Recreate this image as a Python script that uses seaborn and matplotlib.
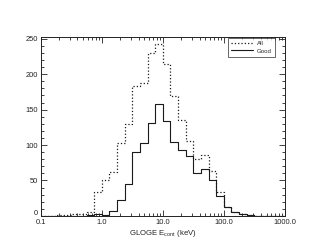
import numpy as np
import pandas as pd
import matplotlib
matplotlib.use("Agg")
import matplotlib.pyplot as plt
import matplotlib.transforms as mtransforms
from matplotlib.ticker import MultipleLocator, FixedLocator, LogLocator, NullFormatter
import seaborn as sns

sns.set_style("ticks")
plt.rcParams['font.family'] = ['Liberation Sans', 'DejaVu Sans']

# Bin edges: 8 log bins per decade, 0.1 .. 1000 keV
edges = 10 ** (np.arange(-8, 25) / 8.0)

all_counts = [0, 0, 1, 1, 2, 3, 5, 34,
              51, 62, 103, 130, 183, 187, 230, 242,
              214, 169, 136, 106, 80, 86, 63, 34,
              13, 6, 3, 1, 0, 0, 0, 0]
good_counts = [0, 0, 0, 0, 0, 0, 1, 2,
               1, 7, 23, 45, 90, 103, 131, 158,
               134, 104, 93, 84, 60, 66, 51, 28,
               13, 5, 2, 1, 0, 0, 0, 0]

xticks = [0.1, 1.0, 10.0, 100.0, 1000.0]
xtick_labels = ["0.1", "1.0", "10.0", "100.0", "1000.0"]
yticks = [0, 50, 100, 150, 200, 250]

df_all = pd.DataFrame({"E": edges, "N": all_counts + [all_counts[-1]]})
df_good = pd.DataFrame({"E": edges, "N": good_counts + [good_counts[-1]]})

fig = plt.figure(figsize=(3.11, 2.49), dpi=100)
ax = fig.add_axes([0.131, 0.133, 0.785, 0.72])

lc = "#1a1a1a"
sns.lineplot(data=df_all, x="E", y="N", ax=ax, drawstyle="steps-post",
             color=lc, linewidth=0.9, linestyle=":", label="All", estimator=None)
sns.lineplot(data=df_good, x="E", y="N", ax=ax, drawstyle="steps-post",
             color=lc, linewidth=0.8, linestyle="-", label="Good", estimator=None)

ax.set_xscale("log")
ax.set_xlim(0.1, 1000)
ax.set_ylim(0, 253)

ax.xaxis.set_major_locator(FixedLocator(xticks))
ax.set_xticklabels(xtick_labels)
ax.xaxis.set_minor_locator(LogLocator(base=10, subs=np.arange(2, 10)))
ax.xaxis.set_minor_formatter(NullFormatter())
ax.yaxis.set_major_locator(FixedLocator(yticks))
ax.set_yticklabels([str(v) for v in yticks])
ax.yaxis.set_minor_locator(MultipleLocator(10))

ax.tick_params(which="both", direction="in", top=True, right=True,
               labelsize=5.4, colors="#222222", pad=2, width=0.6)
ax.tick_params(which="major", length=4.5)
ax.tick_params(which="minor", length=2.2)
for s in ax.spines.values():
    s.set_linewidth(0.7)
    s.set_color("#222222")

# nudge the "0" y label upward like the reference
fig.canvas.draw()
ylabels = ax.get_yticklabels()
off = mtransforms.ScaledTranslation(0, 3 / 100, fig.dpi_scale_trans)
ylabels[0].set_transform(ylabels[0].get_transform() + off)

ax.set_xlabel("GLOGE E$_{\\mathregular{cont}}$ (keV)", fontsize=5.6, labelpad=1.5)
ax.set_ylabel("")

leg = ax.legend(loc="upper right", bbox_to_anchor=(0.959, 0.993), borderaxespad=0,
                fontsize=4.4, frameon=True, fancybox=False,
                edgecolor="#222222", handlelength=3.6, borderpad=0.5,
                labelspacing=0.35, handletextpad=0.6)
leg.get_frame().set_linewidth(0.6)

fig.savefig("out.png", dpi=100)
